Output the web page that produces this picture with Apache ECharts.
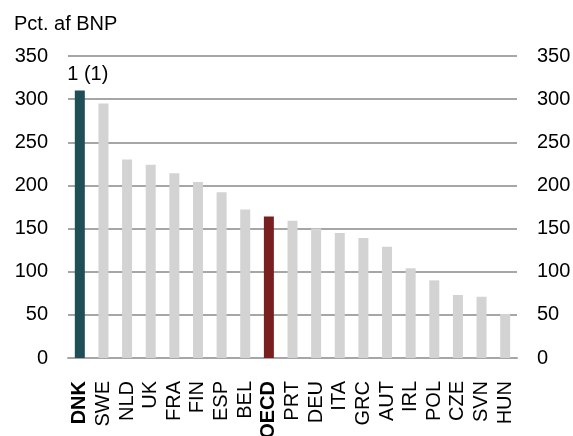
<!DOCTYPE html>
<html>
<head>
<meta charset="utf-8">
<script src="https://cdn.jsdelivr.net/npm/echarts@6/dist/echarts.min.js"></script>
<style>
  html, body { margin: 0; padding: 0; background: #fff; }
  #main { width: 573px; height: 436px; }
</style>
</head>
<body>
<div id="main"></div>
<script>
var countries = ['DNK', 'SWE', 'NLD', 'UK', 'FRA', 'FIN', 'ESP', 'BEL', 'OECD', 'PRT',
  'DEU', 'ITA', 'GRC', 'AUT', 'IRL', 'POL', 'CZE', 'SVN', 'HUN'];
var values = [310, 295, 230, 224, 214, 204, 192, 172, 164, 159,
  150, 145, 139, 129, 104, 90, 73, 71, 51];
var yTicks = [0, 50, 100, 150, 200, 250, 300, 350];

var grey = '#d3d3d3';
var teal = '#1f4e57';
var red = '#7a1f1f';
var font = 'Liberation Sans, Arial, sans-serif';
var fs = 20;

var chartDom = document.getElementById('main');
var myChart = echarts.init(chartDom);

var barData = values.map(function (v, i) {
  var c = grey;
  if (countries[i] === 'DNK') c = teal;
  if (countries[i] === 'OECD') c = red;
  var item = { value: v, itemStyle: { color: c } };
  if (i === 0) {
    item.label = {
      show: true, position: 'top', formatter: '1 (1)', distance: 6,
      offset: [8, 0], color: '#000', fontSize: fs, fontFamily: font
    };
  }
  return item;
});

var yAxisBase = {
  type: 'value',
  min: yTicks[0],
  max: yTicks[yTicks.length - 1],
  interval: 50,
  axisLine: { show: false },
  axisTick: { show: false },
  axisLabel: { color: '#000', fontSize: fs, fontFamily: font, margin: 20 },
  splitLine: { show: true, lineStyle: { color: '#a6a6a6', width: 2 } }
};

var option = {
  animation: false,
  title: {
    text: 'Pct. af BNP', left: 9, top: 9,
    textStyle: { color: '#000', fontSize: fs, fontWeight: 'normal', fontFamily: font }
  },
  grid: { left: 68, right: 56, top: 56, bottom: 78, containLabel: false, outerBoundsMode: 'none' },
  xAxis: {
    type: 'category',
    data: countries,
    axisLine: { show: true, lineStyle: { color: '#a6a6a6', width: 2 } },
    axisTick: { show: false },
    axisLabel: {
      rotate: 90, interval: 0, color: '#000', fontSize: fs, fontFamily: font, margin: 23,
      formatter: function (v) { return (v === 'DNK' || v === 'OECD') ? '{b|' + v + '}' : v; },
      rich: { b: { fontWeight: 'bold', fontSize: fs, fontFamily: font, color: '#000' } }
    }
  },
  yAxis: [
    Object.assign({}, yAxisBase, { position: 'left' }),
    Object.assign({}, yAxisBase, { position: 'right', splitLine: { show: false } })
  ],
  series: [{
    type: 'bar',
    data: barData,
    barWidth: 10
  }]
};

option && myChart.setOption(option);
</script>
</body>
</html>
